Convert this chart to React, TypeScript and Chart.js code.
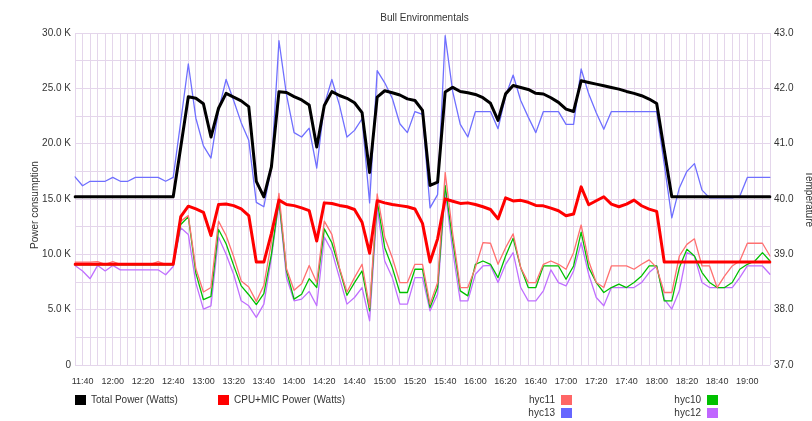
import React, { useEffect, useRef } from 'react';
import { Chart, registerables } from 'chart.js';

Chart.register(...registerables);

const chartTitle = 'Bull Environmentals';
const leftAxisTitle = 'Power consumption';
const rightAxisTitle = 'Temperature';

const times = [
  '11:35', '11:40', '11:45', '11:50', '11:55', '12:00', '12:05', '12:10', '12:15', '12:20',
  '12:25', '12:30', '12:35', '12:40', '12:45', '12:50', '12:55', '13:00', '13:05', '13:10',
  '13:15', '13:20', '13:25', '13:30', '13:35', '13:40', '13:45', '13:50', '13:55', '14:00',
  '14:05', '14:10', '14:15', '14:20', '14:25', '14:30', '14:35', '14:40', '14:45', '14:50',
  '14:55', '15:00', '15:05', '15:10', '15:15', '15:20', '15:25', '15:30', '15:35', '15:40',
  '15:45', '15:50', '15:55', '16:00', '16:05', '16:10', '16:15', '16:20', '16:25', '16:30',
  '16:35', '16:40', '16:45', '16:50', '16:55', '17:00', '17:05', '17:10', '17:15', '17:20',
  '17:25', '17:30', '17:35', '17:40', '17:45', '17:50', '17:55', '18:00', '18:05', '18:10',
  '18:15', '18:20', '18:25', '18:30', '18:35', '18:40', '18:45', '18:50', '18:55', '19:00',
  '19:05', '19:10', '19:15',
];

const timeTickLabels = [
  '11:40', '12:00', '12:20', '12:40', '13:00', '13:20', '13:40', '14:00', '14:20', '14:40',
  '15:00', '15:20', '15:40', '16:00', '16:20', '16:40', '17:00', '17:20', '17:40', '18:00',
  '18:20', '18:40', '19:00',
];

const powerTickValues = [0, 5000, 10000, 15000, 20000, 25000, 30000];
const powerTickLabels = ['0', '5.0 K', '10.0 K', '15.0 K', '20.0 K', '25.0 K', '30.0 K'];
const tempTickValues = [37, 38, 39, 40, 41, 42, 43];
const tempTickLabels = ['37.0', '38.0', '39.0', '40.0', '41.0', '42.0', '43.0'];

// Total Power (Watts)
const totalPower = [
  15200, 15200, 15200, 15200, 15200, 15200, 15200, 15200, 15200, 15200,
  15200, 15200, 15200, 15200, 19700, 24240, 24100, 23600, 20600, 23200,
  24550, 24200, 23870, 23350, 16600, 15200, 17900, 24700, 24620, 24250,
  23950, 23500, 19700, 23450, 24700, 24350, 24100, 23700, 22800, 17400,
  24200, 24780, 24600, 24400, 24050, 23900, 23000, 16230, 16530, 24660,
  25090, 24710, 24600, 24450, 24150, 23650, 22100, 24500, 25250, 25080,
  24900, 24550, 24490, 24150, 23730, 23120, 22910, 25680, 25530, 25380,
  25230, 25080, 24930, 24720, 24540, 24330, 24030, 23630, 19400, 15200,
  15200, 15200, 15200, 15200, 15200, 15200, 15200, 15200, 15200, 15200,
  15200, 15200, 15200,
];

// CPU+MIC Power (Watts)
const cpuMicPower = [
  9100, 9100, 9100, 9100, 9100, 9100, 9100, 9100, 9100, 9100,
  9100, 9100, 9100, 9100, 13400, 14350, 14100, 13800, 11700, 14500,
  14550, 14400, 14100, 13500, 9300, 9300, 11900, 14900, 14500, 14400,
  14200, 13950, 11200, 14650, 14600, 14420, 14300, 14050, 12900, 10100,
  14850, 14650, 14500, 14400, 14300, 14100, 12800, 9300, 11400, 15000,
  14800, 14600, 14650, 14500, 14300, 14050, 13200, 15100, 14830, 14880,
  14700, 14420, 14380, 14170, 13940, 13480, 13640, 16100, 14480, 14840,
  15200, 14540, 14300, 14540, 14900, 14390, 14090, 13880, 9300, 9300,
  9300, 9300, 9300, 9300, 9300, 9300, 9300, 9300, 9300, 9300,
  9300, 9300, 9300,
];

// Temperatures (right axis)
const hyc11 = [
  38.86, 38.86, 38.86, 38.87, 38.82, 38.87, 38.82, 38.82, 38.82, 38.82,
  38.82, 38.87, 38.82, 38.82, 39.6, 39.7, 38.74, 38.32, 38.4, 39.6,
  39.34, 38.96, 38.52, 38.41, 38.15, 38.44, 39.22, 40.1, 38.74, 38.35,
  38.47, 38.8, 38.49, 39.6, 39.36, 38.76, 38.32, 38.58, 38.82, 38.04,
  40.09, 39.31, 38.94, 38.49, 38.49, 38.82, 38.82, 38.1, 38.49, 40.48,
  39.37, 38.4, 38.4, 38.76, 39.21, 39.2, 38.82, 39.12, 39.37, 38.76,
  38.49, 38.49, 38.82, 38.88, 38.82, 38.73, 39.03, 39.53, 38.88, 38.49,
  38.4, 38.79, 38.79, 38.79, 38.73, 38.82, 38.9, 38.76, 38.31, 38.31,
  38.97, 39.18, 39.28, 38.79, 38.79, 38.4, 38.61, 38.79, 38.88, 39.2,
  39.2, 39.2, 38.97,
];

const hyc13 = [
  40.4, 40.24, 40.32, 40.32, 40.32, 40.39, 40.32, 40.32, 40.39, 40.39,
  40.39, 40.39, 40.32, 40.39, 41.4, 42.44, 41.46, 40.96, 40.74, 41.6,
  42.16, 41.78, 41.38, 41.06, 39.94, 39.86, 40.58, 42.86, 41.88, 41.2,
  41.12, 41.28, 40.56, 41.7, 42.16, 41.7, 41.12, 41.24, 41.45, 39.93,
  42.32, 42.1, 41.82, 41.36, 41.2, 41.58, 41.53, 39.84, 40.08, 42.95,
  41.94, 41.35, 41.12, 41.58, 41.58, 41.58, 41.27, 41.86, 42.24, 41.78,
  41.48, 41.2, 41.58, 41.58, 41.58, 41.35, 41.35, 42.35, 41.9, 41.56,
  41.26, 41.58, 41.58, 41.58, 41.58, 41.58, 41.58, 41.58, 40.63, 39.66,
  40.2, 40.5, 40.64, 40.16, 40.02, 40.02, 40.02, 40.02, 40.05, 40.39,
  40.39, 40.39, 40.39,
];

const hyc10 = [
  38.81, 38.81, 38.81, 38.81, 38.81, 38.81, 38.81, 38.81, 38.81, 38.81,
  38.81, 38.81, 38.81, 38.81, 39.54, 39.68, 38.66, 38.18, 38.24, 39.45,
  39.19, 38.8, 38.43, 38.27, 38.09, 38.29, 39.0, 39.98, 38.7, 38.19,
  38.28, 38.56, 38.4, 39.46, 39.21, 38.74, 38.26, 38.49, 38.7, 37.98,
  39.97, 39.12, 38.76, 38.31, 38.31, 38.73, 38.73, 38.04, 38.4, 40.24,
  39.25, 38.34, 38.25, 38.82, 38.88, 38.82, 38.58, 38.97, 39.29, 38.76,
  38.4, 38.4, 38.79, 38.79, 38.79, 38.55, 38.79, 39.4, 38.76, 38.49,
  38.31, 38.4, 38.46, 38.4, 38.49, 38.61, 38.79, 38.79, 38.16, 38.16,
  38.76, 39.09, 38.97, 38.67, 38.49, 38.4, 38.4, 38.49, 38.73, 38.82,
  38.88, 39.03, 38.88,
];

const hyc12 = [
  38.8, 38.7, 38.56, 38.8, 38.7, 38.8, 38.72, 38.72, 38.72, 38.72,
  38.72, 38.72, 38.63, 38.78, 39.48, 39.36, 38.48, 38.01, 38.07, 39.31,
  39.0, 38.64, 38.16, 38.07, 37.86, 38.1, 38.94, 39.94, 38.58, 38.16,
  38.19, 38.33, 38.07, 39.31, 39.06, 38.58, 38.1, 38.22, 38.4, 37.8,
  39.85, 38.88, 38.58, 38.1, 38.1, 38.58, 38.58, 37.98, 38.28, 40.15,
  39.06, 38.16, 38.16, 38.64, 38.79, 38.8, 38.49, 38.82, 39.03, 38.4,
  38.16, 38.16, 38.34, 38.72, 38.49, 38.43, 38.7, 39.21, 38.64, 38.22,
  38.07, 38.4, 38.4, 38.4, 38.4, 38.49, 38.67, 38.79, 38.19, 38.01,
  38.34, 39.03, 38.97, 38.49, 38.4, 38.4, 38.4, 38.4, 38.58, 38.79,
  38.79, 38.79, 38.64,
];

const FONT = '"Liberation Sans", Arial, sans-serif';
const TEXT = '#333333';
const GRID = '#e4d6eb';

type LegendSpot = { ds: number; x: number; y: number; textFirst: boolean };
const legendSpots: LegendSpot[] = [
  { ds: 0, x: 75, y: 400, textFirst: false },
  { ds: 1, x: 218, y: 400, textFirst: false },
  { ds: 2, x: 561, y: 400, textFirst: true },
  { ds: 3, x: 561, y: 413, textFirst: true },
  { ds: 4, x: 707, y: 400, textFirst: true },
  { ds: 5, x: 707, y: 413, textFirst: true },
];

const overlayPlugin = {
  id: 'overlay',
  afterDraw(chart: any) {
    const ctx = chart.ctx as CanvasRenderingContext2D;
    const ca = chart.chartArea;
    ctx.save();
    ctx.fillStyle = TEXT;
    ctx.font = `10px ${FONT}`;
    ctx.textAlign = 'center';
    ctx.textBaseline = 'middle';
    ctx.fillText(chartTitle, (ca.left + ca.right) / 2 + 2, 18);

    ctx.save();
    ctx.translate(35, 205);
    ctx.rotate(-Math.PI / 2);
    ctx.fillText(leftAxisTitle, 0, 0);
    ctx.restore();

    ctx.save();
    ctx.translate(809, 199);
    ctx.rotate(Math.PI / 2);
    ctx.fillText(rightAxisTitle, 0, 0);
    ctx.restore();

    legendSpots.forEach((s) => {
      const ds = chart.data.datasets[s.ds];
      ctx.fillStyle = ds.legendColor || ds.borderColor;
      ctx.fillRect(s.x, s.y - 5, 11, 10);
      ctx.fillStyle = TEXT;
      if (s.textFirst) {
        ctx.textAlign = 'right';
        ctx.fillText(ds.label, s.x - 6, s.y);
      } else {
        ctx.textAlign = 'left';
        ctx.fillText(ds.label, s.x + 16, s.y);
      }
    });
    ctx.restore();
  },
};

export default function App() {
  const canvasRef = useRef<HTMLCanvasElement | null>(null);

  useEffect(() => {
    if (!canvasRef.current) return;
    const chart = new Chart(canvasRef.current, {
      type: 'line',
      data: {
        labels: times,
        datasets: [
          { label: 'Total Power (Watts)', data: totalPower, yAxisID: 'yPower', borderColor: '#000000', borderWidth: 3 },
          { label: 'CPU+MIC Power (Watts)', data: cpuMicPower, yAxisID: 'yPower', borderColor: '#ff0000', borderWidth: 3 },
          { label: 'hyc11', data: hyc11, yAxisID: 'yTemp', borderColor: '#ff7070', legendColor: '#ff6666', borderWidth: 1.3 },
          { label: 'hyc13', data: hyc13, yAxisID: 'yTemp', borderColor: '#6f6fff', legendColor: '#6666ff', borderWidth: 1.3 },
          { label: 'hyc10', data: hyc10, yAxisID: 'yTemp', borderColor: '#00c000', legendColor: '#00c000', borderWidth: 1.3 },
          { label: 'hyc12', data: hyc12, yAxisID: 'yTemp', borderColor: '#c070ff', legendColor: '#c066ff', borderWidth: 1.3 },
        ] as any,
      },
      options: {
        responsive: false,
        animation: false,
        devicePixelRatio: 1,
        layout: { padding: { top: 33, left: 0, right: 0, bottom: 0 } },
        elements: {
          point: { radius: 0, hoverRadius: 0 },
          line: { tension: 0, borderJoinStyle: 'round', borderCapStyle: 'round' },
        },
        plugins: {
          legend: { display: false },
          title: { display: false },
          tooltip: { enabled: false },
        },
        scales: {
          x: {
            type: 'category',
            offset: false,
            grid: { color: GRID, lineWidth: 1, drawTicks: false },
            border: { display: false },
            ticks: {
              autoSkip: false,
              maxRotation: 0,
              minRotation: 0,
              padding: 11,
              color: TEXT,
              font: { family: FONT, size: 9 },
              callback: (_v: any, i: number) => (timeTickLabels.includes(times[i]) ? times[i] : ''),
            },
            afterFit: (s: any) => { s.height = 56; },
          },
          yPower: {
            type: 'linear',
            position: 'left',
            min: 0,
            max: 30000,
            grid: { color: GRID, lineWidth: 1, drawTicks: false },
            border: { display: false },
            ticks: {
              stepSize: 2500,
              padding: 4,
              color: TEXT,
              font: { family: FONT, size: 10 },
              callback: (v: any) => {
                const k = powerTickValues.indexOf(Number(v));
                return k >= 0 ? powerTickLabels[k] : '';
              },
            },
            afterFit: (s: any) => { s.width = 75; },
          },
          yTemp: {
            type: 'linear',
            position: 'right',
            min: 37,
            max: 43,
            grid: { display: false, drawTicks: false },
            border: { display: false },
            ticks: {
              stepSize: 0.5,
              padding: 4,
              color: TEXT,
              font: { family: FONT, size: 10 },
              callback: (v: any) => {
                const k = tempTickValues.indexOf(Number(v));
                return k >= 0 ? tempTickLabels[k] : '';
              },
            },
            afterFit: (s: any) => { s.width = 42; },
          },
        },
      } as any,
      plugins: [overlayPlugin],
    });
    return () => chart.destroy();
  }, []);

  return (
    <div style={{ position: 'fixed', left: 0, top: 0, width: 812, height: 421, background: '#ffffff' }}>
      <canvas ref={canvasRef} width={812} height={421} style={{ display: 'block', width: 812, height: 421 }} />
    </div>
  );
}
